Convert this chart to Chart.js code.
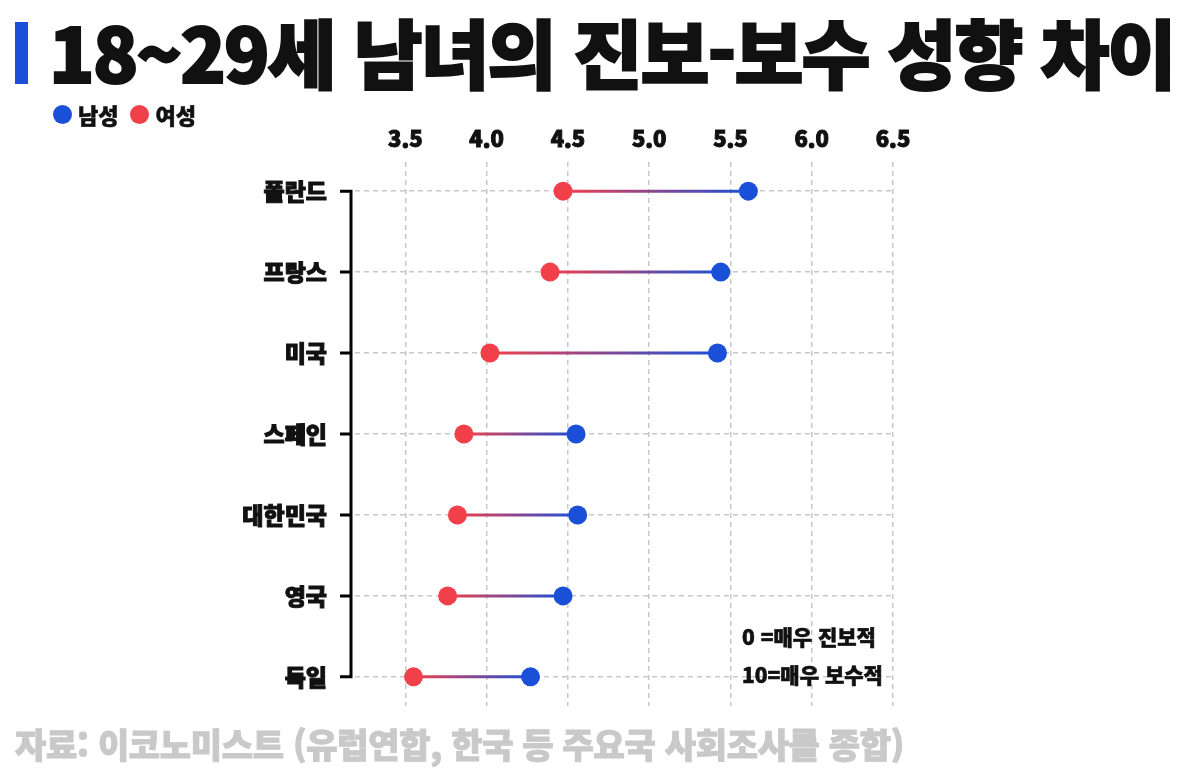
<!DOCTYPE html>
<html lang="ko">
<head>
<meta charset="utf-8">
<script src="https://cdn.jsdelivr.net/npm/chart.js@4.4.1/dist/chart.umd.min.js"></script>
<style>
  html, body { margin: 0; padding: 0; background: #fff; }
  body { width: 1200px; height: 778px; position: relative; overflow: hidden;
         font-family: "Noto Sans CJK KR", "Noto Sans", sans-serif; color: #111; }
  #chart { position: absolute; left: 0; top: 0; }
  .bar { position: absolute; left: 15px; top: 22px; width: 13px; height: 62px; background: #1a4fd8; }
  h1 { position: absolute; left: 49px; top: 13px; margin: 0; font-size: 75px; font-weight: 900;
       line-height: 1; letter-spacing: -2px; white-space: nowrap; -webkit-text-stroke: 2px #111; }
  .legend { position: absolute; left: 53px; top: 103px; font-size: 22px; font-weight: 900; line-height: 1;
            display: flex; align-items: center; -webkit-text-stroke: 0.6px #111; }
  .legend i { display: inline-block; width: 19px; height: 19px; border-radius: 50%; margin-right: 6px; }
  .legend span { margin-right: 12px; }
  .note { position: absolute; left: 742px; font-size: 21px; font-weight: 900; line-height: 1; white-space: nowrap;
          -webkit-text-stroke: 0.6px #111; }
  .source { position: absolute; left: 15px; top: 727px; font-size: 34px; font-weight: 900; line-height: 1;
            color: #c9c9c9; white-space: nowrap; letter-spacing: -0.3px; -webkit-text-stroke: 1px #c9c9c9; }
</style>
</head>
<body>
<canvas id="chart" width="1200" height="778"></canvas>
<div class="bar"></div>
<h1>18~29세 남녀의 진보-보수 성향 차이</h1>
<div class="legend"><i style="background:#1a4fd8"></i><span>남성</span><i style="background:#f2404a"></i><span>여성</span></div>
<div class="note" style="top:626px">0 =매우 진보적</div>
<div class="note" style="top:664px">10=매우 보수적</div>
<div class="source">자료: 이코노미스트 (유럽연합, 한국 등 주요국 사회조사를 종합)</div>
<script>
const countries = ['폴란드', '프랑스', '미국', '스페인', '대한민국', '영국', '독일'];
const maleScores = [5.61, 5.44, 5.42, 4.55, 4.56, 4.47, 4.27];
const femaleScores = [4.47, 4.39, 4.02, 3.86, 3.82, 3.76, 3.55];
const xTicks = [3.5, 4.0, 4.5, 5.0, 5.5, 6.0, 6.5];

const BLUE = '#1a4fd8';
const RED = '#f2404a';
const GRID = '#c8c8c8';
const FONT = '"Noto Sans CJK KR", "Noto Sans", sans-serif';

// gradient line from the woman's score to the man's
const dumbbellLines = {
  id: 'dumbbellLines',
  beforeDatasetsDraw(chart) {
    const ctx = chart.ctx, x = chart.scales.x, y = chart.scales.y;
    ctx.save();
    ctx.lineWidth = 3;
    countries.forEach((c, i) => {
      const x1 = x.getPixelForValue(femaleScores[i]);
      const x2 = x.getPixelForValue(maleScores[i]);
      const py = y.getPixelForValue(i);
      const g = ctx.createLinearGradient(x1, 0, x2, 0);
      g.addColorStop(0, RED);
      g.addColorStop(1, BLUE);
      ctx.strokeStyle = g;
      ctx.beginPath();
      ctx.moveTo(x1, py);
      ctx.lineTo(x2, py);
      ctx.stroke();
    });
    ctx.restore();
  }
};

// black category axis with short ticks, only between first and last row
const categoryAxis = {
  id: 'categoryAxis',
  afterDraw(chart) {
    const ctx = chart.ctx, y = chart.scales.y;
    const ax = chart.chartArea.left - 4;
    const top = y.getPixelForValue(0), bottom = y.getPixelForValue(countries.length - 1);
    ctx.save();
    ctx.strokeStyle = '#000';
    ctx.lineWidth = 3;
    ctx.beginPath();
    ctx.moveTo(ax, top - 1.5);
    ctx.lineTo(ax, bottom + 1.5);
    countries.forEach((c, i) => {
      const py = y.getPixelForValue(i);
      ctx.moveTo(ax - 11, py);
      ctx.lineTo(ax, py);
    });
    ctx.stroke();
    ctx.restore();
  }
};

new Chart(document.getElementById('chart'), {
  type: 'scatter',
  data: {
    datasets: [
      {
        label: '남성',
        data: countries.map((c, i) => ({ x: maleScores[i], y: i })),
        backgroundColor: BLUE,
        borderWidth: 0,
        pointRadius: 9.5,
        pointHoverRadius: 9.5
      },
      {
        label: '여성',
        data: countries.map((c, i) => ({ x: femaleScores[i], y: i })),
        backgroundColor: RED,
        borderWidth: 0,
        pointRadius: 9.5,
        pointHoverRadius: 9.5
      }
    ]
  },
  options: {
    responsive: false,
    animation: false,
    layout: { padding: { top: 122, left: 0, right: 307, bottom: 72 } },
    plugins: {
      legend: { display: false },
      tooltip: { enabled: false }
    },
    scales: {
      x: {
        type: 'linear',
        position: 'top',
        min: 3.19,
        max: 6.5,
        afterBuildTicks: axis => { axis.ticks = xTicks.map(v => ({ value: v })); },
        afterFit: scale => { scale.height = 40; },
        ticks: {
          callback: v => v.toFixed(1),
          color: '#111',
          textStrokeColor: '#111',
          textStrokeWidth: 1,
          padding: 10,
          font: { family: FONT, size: 22, weight: 900 }
        },
        grid: { color: GRID, lineWidth: 1.5, drawTicks: false },
        border: { display: false, dash: [5, 4] }
      },
      y: {
        type: 'linear',
        reverse: true,
        min: -0.36,
        max: 6.36,
        afterBuildTicks: axis => { axis.ticks = countries.map((c, i) => ({ value: i })); },
        afterFit: scale => { scale.width = 355; },
        ticks: {
          callback: v => countries[v],
          color: '#111',
          textStrokeColor: '#111',
          textStrokeWidth: 1,
          padding: 28,
          font: { family: FONT, size: 23, weight: 900 }
        },
        grid: { color: GRID, lineWidth: 1.5, drawTicks: false },
        border: { display: false, dash: [5, 4] }
      }
    }
  },
  plugins: [dumbbellLines, categoryAxis]
});
</script>
</body>
</html>
